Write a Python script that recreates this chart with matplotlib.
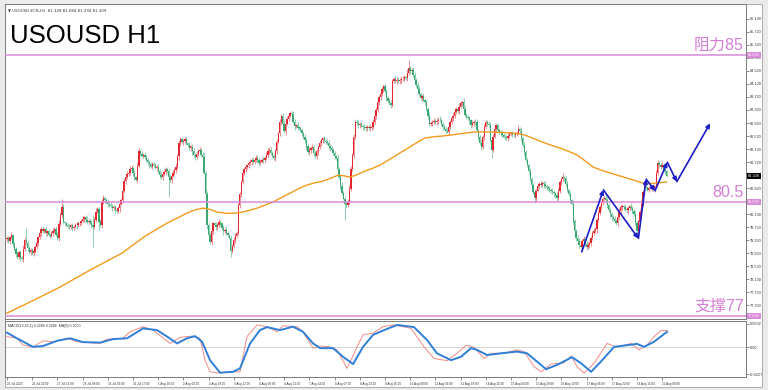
import numpy as np
import matplotlib
matplotlib.use("Agg")
import matplotlib.pyplot as plt
import matplotlib.transforms as mtransforms
from matplotlib.patches import Rectangle

# ---------------- data ----------------
open0 = 79.35
closes = [
    79.39, 79.30, 79.42, 79.48, 79.21, 79.05, 78.90, 78.81, 78.95, 78.78,
    78.74, 79.05, 79.33, 79.25, 79.10, 78.96, 79.02, 78.92, 78.98, 79.12,
    79.24, 79.41, 79.55, 79.68, 79.62, 79.66, 79.55, 79.60, 79.50, 79.47,
    79.55, 79.62, 79.66, 79.50, 79.40, 79.82, 80.10, 80.35, 79.88, 79.84,
    79.80, 79.76, 79.72, 79.78, 79.70, 79.74, 79.80, 79.78, 79.84,
    79.86, 79.92, 79.98, 80.03, 79.96, 79.90, 79.93, 79.86, 79.80, 79.74,
    79.95, 80.20, 80.28, 79.90, 79.80, 80.50, 80.62, 80.55, 80.50, 80.45,
    80.42, 80.38, 80.30, 80.34, 80.26, 80.22, 80.30, 80.45, 80.55, 80.85,
    81.15, 81.28, 81.35, 81.40, 81.50, 81.55, 81.40, 81.25, 81.18, 81.60,
    82.05, 81.98, 81.92, 81.95, 81.87, 81.80, 81.72, 81.65, 81.58, 81.66,
    81.62, 81.55, 81.58, 81.45, 81.32, 81.26, 81.35, 81.42, 81.50, 81.46,
    81.25, 81.18, 81.30, 81.40, 81.48, 81.58, 81.90, 82.30, 82.42, 82.35,
    82.38, 82.42, 82.30, 82.25, 82.15, 82.20, 82.05, 81.95, 81.88, 81.98,
    82.05, 82.10, 81.95, 81.88, 81.40, 80.75, 79.80, 79.50, 79.28, 79.60,
    79.84, 79.80, 79.72, 79.80, 79.88, 79.84, 79.70, 79.60, 79.65,
    79.55, 79.48, 79.40, 79.00, 79.15, 79.32, 79.45, 79.55, 80.40, 80.75,
    81.10, 81.40, 81.50, 81.56, 81.62, 81.68, 81.74, 81.78, 81.72, 81.80,
    81.86, 81.78, 81.70, 81.74, 81.80, 81.78, 81.85, 81.95, 82.05, 82.08,
    82.00, 81.92, 81.86, 82.05, 82.35, 82.60, 82.95, 83.15, 82.90, 82.68,
    82.90, 83.05, 83.15, 83.22, 83.20, 82.95, 82.82, 82.85, 82.78, 82.76,
    82.70, 82.60, 82.48, 82.40, 82.20, 82.02, 82.10, 82.15, 82.18, 82.00,
    81.90, 82.05, 82.18, 82.30, 82.40, 82.45, 82.38, 82.35, 82.30, 82.22,
    82.15, 82.08, 82.00, 81.90, 81.85, 81.50, 81.25, 81.00, 80.78,
    80.60, 80.45, 80.40, 80.50, 80.90, 81.50, 81.95, 82.50, 82.95, 82.92,
    82.85, 82.88, 82.84, 82.80, 82.78, 82.76, 82.80, 82.76, 82.78, 82.80,
    82.95, 83.15, 83.32, 83.55, 83.72, 83.80, 83.95, 84.05, 83.90, 83.70,
    83.60, 83.52, 83.48, 84.20, 84.28, 84.22, 84.25, 84.20, 84.23, 84.26,
    84.28, 84.33, 84.30, 84.45, 84.60, 84.52, 84.55, 84.40, 84.25, 84.10,
    83.95, 83.80, 83.70, 83.75, 83.62, 83.55, 83.35, 83.15, 82.90, 82.92,
    82.95, 82.98, 82.94, 82.98, 83.02, 83.00, 82.90, 82.80, 82.75, 82.68,
    82.66, 82.80, 82.95, 83.08, 83.15, 83.25, 83.35, 83.30, 83.42, 83.52,
    83.55, 83.35, 83.18, 83.10, 83.06, 83.00, 82.86, 82.92, 82.96,
    82.94, 82.70, 82.48, 82.30, 82.18, 82.50, 82.80, 82.95, 82.90, 82.85,
    82.40, 82.10, 82.50, 82.75, 82.85, 82.72, 82.64, 82.60, 82.55, 82.50,
    82.48, 82.45, 82.52, 82.58, 82.60, 82.56, 82.54, 82.58, 82.62, 82.75,
    82.68, 82.45, 82.25, 82.02, 81.80, 81.62, 81.45, 81.20, 81.02, 80.80,
    80.62, 80.85, 81.00, 81.05, 81.02, 81.08, 81.04, 80.98, 80.95, 80.92,
    80.88, 80.84, 80.80, 80.76, 80.70, 80.62, 80.85, 81.10, 81.20, 81.26,
    81.22, 81.05, 80.88, 80.75, 80.55, 80.45, 79.90, 79.60, 79.40, 79.30,
    79.18, 79.12, 79.30, 79.35, 79.22, 79.12, 79.18, 79.24, 79.40, 79.55,
    79.60, 79.66, 79.95, 80.15, 80.35, 80.48, 80.58, 80.62, 80.55,
    80.40, 80.25, 80.12, 80.04, 79.98, 79.92, 79.86, 80.05, 80.22, 80.34,
    80.38, 80.33, 80.28, 80.24, 80.30, 80.36, 80.32, 80.22, 80.14, 79.85,
    79.60, 79.90, 80.20, 80.45, 80.80, 81.05, 80.95, 80.88, 80.92, 80.95,
    80.96, 80.90, 80.98, 81.40, 81.68, 81.62, 81.58, 81.62, 81.50, 81.45, 81.31,
]
# upper / lower wick lengths in cents
wick_up = [
    6, 8, 5, 10, 4, 7, 6, 9, 5, 8, 6, 12, 9, 37, 6, 5, 8, 7, 4, 6,
    9, 5, 7, 6, 8, 4, 10, 5, 7, 6, 5, 8, 6, 9, 7, 12, 8, 23, 10, 5,
    6, 4, 7, 5, 8, 6, 5, 7, 9, 4, 6, 8, 5, 7, 10, 6, 4, 8, 30, 9,
    12, 6, 8, 7, 9, 10, 5, 6, 8, 4, 7, 5, 6, 8, 5, 7, 9, 6, 12, 8,
    6, 9, 5, 10, 7, 6, 8, 5, 14, 10, 6, 7, 5, 8, 6, 4, 7, 9, 5, 6,
    8, 5, 7, 6, 9, 4, 6, 8, 5, 7, 10, 6, 8, 5, 12, 7, 9, 6, 8, 5,
    6, 7, 5, 9, 6, 8, 10, 5, 7, 6, 8, 5, 9, 12, 6, 8, 5, 7, 10, 6,
    5, 8, 6, 9, 7, 5, 8, 6, 10, 7, 5, 8, 6, 12, 9, 7, 6, 5, 8, 10,
    6, 7, 5, 9, 8, 6, 10, 5, 7, 8, 6, 9, 5, 7, 6, 8, 10, 12, 9, 6,
    5, 7, 8, 6, 9, 5, 7, 10, 6, 8, 5, 7, 6, 9, 8, 5, 10, 6, 7, 8,
    6, 9, 5, 7, 8, 6, 10, 7, 5, 8, 6, 9, 7, 5, 8, 6, 7, 9, 5, 6,
    8, 7, 5, 9, 6, 8, 10, 6, 7, 5, 8, 12, 9, 6, 7, 5, 10, 8, 6, 7,
    5, 8, 9, 6, 7, 10, 5, 8, 6, 9, 12, 7, 6, 8, 5, 9, 7, 6, 8, 10,
    6, 5, 8, 7, 9, 6, 10, 8, 5, 7, 12, 25, 8, 6, 9, 7, 5, 8, 10, 6,
    7, 9, 5, 8, 6, 10, 7, 5, 9, 6, 8, 7, 12, 6, 5, 9, 8, 10, 7, 6,
    5, 8, 9, 6, 7, 10, 5, 8, 15, 9, 6, 7, 8, 5, 10, 6, 7, 9, 5, 8,
    12, 6, 9, 7, 5, 8, 10, 6, 7, 9, 5, 8, 6, 7, 10, 5, 9, 6, 8, 7,
    6, 9, 5, 8, 7, 10, 6, 8, 5, 9, 7, 6, 8, 10, 5, 7, 9, 6, 8, 5,
    10, 7, 6, 9, 8, 5, 7, 6, 10, 8, 5, 9, 7, 6, 8, 12, 5, 7, 9, 6,
    8, 5, 10, 7, 6, 9, 8, 5, 7, 10, 6, 8, 9, 5, 7, 6, 10, 8, 5, 9,
    7, 6, 8, 5, 10, 9, 6, 7, 8, 5, 9, 7, 6, 10, 8, 5, 7, 9, 6, 8,
    5, 10, 7, 6, 9, 8, 5, 7, 12, 6, 8, 9, 5, 7, 10, 6, 8, 5, 9, 11,
    7, 6, 10, 8, 5, 4,
]
wick_dn = [
    7, 5, 9, 6, 8, 5, 10, 7, 6, 9, 5, 8, 6, 7, 9, 5, 8, 6, 7, 5,
    6, 8, 5, 9, 7, 6, 8, 10, 5, 7, 6, 9, 8, 5, 7, 10, 6, 8, 5, 9,
    7, 5, 8, 6, 9, 7, 5, 10, 6, 8, 7, 5, 9, 6, 8, 7, 5, 9, 62, 6,
    8, 5, 26, 7, 9, 6, 8, 5, 10, 7, 6, 8, 5, 9, 7, 6, 10, 5, 8, 6,
    9, 7, 5, 8, 6, 10, 7, 5, 9, 6, 8, 5, 7, 9, 6, 8, 10, 5, 7, 6,
    5, 9, 7, 8, 6, 10, 5, 7, 8, 60, 6, 9, 5, 7, 8, 6, 10, 7, 5, 9,
    8, 6, 7, 5, 9, 10, 6, 8, 5, 7, 9, 6, 8, 5, 10, 12, 8, 6, 9, 7,
    5, 8, 7, 6, 9, 5, 10, 8, 6, 7, 5, 19, 8, 6, 9, 7, 5, 8, 10, 6,
    7, 9, 5, 8, 6, 10, 7, 5, 9, 8, 6, 7, 5, 10, 8, 6, 9, 7, 5, 8,
    6, 10, 7, 5, 9, 8, 6, 7, 12, 5, 8, 6, 9, 7, 10, 5, 8, 6, 7, 9,
    5, 8, 10, 6, 7, 9, 5, 8, 6, 7, 10, 5, 9, 8, 6, 7, 5, 10, 8, 6,
    7, 9, 5, 8, 6, 10, 7, 5, 50, 8, 6, 9, 7, 5, 10, 8, 6, 7, 9, 5,
    8, 6, 10, 7, 5, 9, 8, 6, 7, 10, 5, 8, 9, 6, 7, 5, 10, 8, 6, 9,
    7, 5, 8, 10, 6, 9, 7, 5, 8, 6, 10, 7, 9, 5, 8, 6, 7, 10, 5, 8,
    9, 6, 7, 5, 10, 8, 6, 9, 7, 5, 8, 10, 6, 7, 9, 5, 8, 6, 10, 7,
    5, 9, 8, 6, 7, 10, 5, 8, 9, 6, 7, 5, 10, 8, 6, 9, 7, 5, 8, 6,
    10, 7, 9, 5, 8, 6, 7, 25, 8, 5, 9, 6, 10, 7, 8, 5, 9, 6, 7, 10,
    5, 8, 6, 9, 7, 5, 10, 8, 6, 7, 9, 5, 8, 6, 10, 7, 15, 9, 5, 8,
    6, 7, 10, 5, 9, 8, 6, 7, 5, 10, 8, 12, 6, 9, 7, 5, 8, 10, 6, 7,
    9, 5, 8, 6, 10, 7, 9, 5, 8, 6, 7, 10, 5, 9, 8, 6, 7, 5, 10, 8,
    6, 9, 7, 5, 8, 10, 6, 7, 9, 5, 8, 6, 10, 7, 5, 9, 8, 6, 7, 10,
    5, 8, 9, 6, 7, 18, 8, 5, 10, 6, 9, 7, 5, 8, 6, 10, 7, 9, 5, 8,
    6, 7, 5, 9, 8, 6,
]

# moving average (orange) - bar index / value
ma_idx = [0, 15.5, 35.8, 56.0, 77.6, 93.1, 108.0, 115.0, 121.5, 127.0, 132.3, 137.0, 141.7,
          148.0, 155.2, 160.0, 164.0, 168.7, 174.0, 179.5, 185.0, 191.0, 196.5, 202.4, 208.0,
          213.2, 218.0, 223.3, 227.5, 231.4, 236.0, 240.2, 246.0, 251.7, 259.8, 265.0, 270.6,
          276.5, 282.1, 288.0, 293.5, 299.0, 304.3, 313.8, 320.5, 327.3, 335.0, 342.8, 349.5,
          355.0, 361.0, 367.0, 373.1, 379.0, 384.6, 390.0, 395.4, 401.0, 406.9, 412.5, 418.4,
          424.0, 429.1, 434.0, 438.6, 442.0, 445]
ma_val = [77.09, 77.43, 77.89, 78.41, 78.93, 79.45, 79.85, 80.01, 80.16, 80.26, 80.31, 80.27,
          80.19, 80.15, 80.16, 80.20, 80.25, 80.31, 80.40, 80.50, 80.63, 80.77, 80.90, 81.02,
          81.09, 81.14, 81.22, 81.32, 81.30, 81.26, 81.33, 81.42, 81.52, 81.63, 81.85, 82.00,
          82.15, 82.32, 82.46, 82.50, 82.52, 82.55, 82.58, 82.64, 82.65, 82.64, 82.63, 82.61,
          82.55, 82.45, 82.34, 82.24, 82.15, 82.05, 81.94, 81.76, 81.57, 81.47, 81.39, 81.31,
          81.23, 81.15, 81.08, 81.06, 81.08, 81.10, 81.11]

# MACD panel
macd_blue_idx = [0, 6.7, 17.5, 24.3, 33.7, 42.5, 51.3, 62.8, 71.5, 81.0, 91.8, 101.2, 108.0,
                 114.7, 121.5, 126.9, 131.6, 137.0, 143.7, 152.5, 157.2, 164.0, 170.7, 175.4,
                 184.2, 193.0, 199.7, 206.5, 211.2, 220.0, 226.7, 233.5, 240.2, 247.0, 253.7,
                 263.2, 274.6, 283.4, 290.1, 299.6, 306.3, 313.1, 317.1, 323.9, 333.3, 344.1,
                 350.9, 360.3, 363.7, 371.1, 381.2, 387.3, 394.1, 400.8, 409.6, 418.4, 425.1,
                 429.8, 436.6, 445.3]
macd_blue = [0.34, 0.21, 0.01, 0.03, 0.15, 0.21, 0.12, 0.11, 0.19, 0.21, 0.44, 0.40, 0.25,
             0.09, 0.21, 0.26, 0.13, -0.30, -0.59, -0.57, -0.49, 0.09, 0.40, 0.47,
             0.40, 0.48, 0.36, 0.09, -0.02, -0.02, -0.22, -0.39, 0.01, 0.29, 0.39,
             0.52, 0.47, 0.17, -0.14, -0.30, -0.22, -0.02, -0.06, -0.18, -0.14, -0.10,
             -0.14, -0.41, -0.51, -0.41, -0.23, -0.37, -0.57, -0.33, 0.01, 0.05, 0.08,
             0.01, 0.13, 0.36]
macd_red_idx = [0, 6.7, 10.8, 17.5, 24.3, 31.0, 40.5, 47.2, 62.8, 67.5, 78.3, 83.0, 91.8,
                98.5, 110.0, 116.7, 124.8, 130.2, 133.6, 137.0, 143.7, 150.5, 157.2, 161.9,
                168.7, 175.4, 182.2, 186.2, 195.7, 199.7, 206.5, 211.2, 217.9, 222.7, 229.4,
                236.2, 240.2, 247.0, 253.7, 261.1, 272.6, 281.4, 288.1, 296.9, 303.6, 309.7,
                315.1, 321.9, 326.6, 335.4, 344.1, 348.9, 355.6, 360.3, 367.1, 375.8, 380.6,
                384.6, 389.3, 396.1, 404.9, 411.6, 421.1, 426.5, 431.8, 436.6, 441.3, 445.3]
macd_red = [0.25, 0.21, 0.05, 0.01, 0.15, 0.13, 0.21, 0.13, 0.09, 0.19, 0.21, 0.36, 0.48,
            0.40, 0.09, 0.23, 0.26, 0.21, -0.30, -0.57, -0.60, -0.57, -0.57, 0.25,
            0.52, 0.48, 0.36, 0.50, 0.48, 0.36, -0.02, 0.03, 0.01, -0.06, -0.49,
            0.01, 0.29, 0.33, 0.48, 0.52, 0.44, 0.01, -0.26, -0.31, -0.14, 0.05,
            0.00, -0.26, -0.14, -0.14, -0.06, -0.10, -0.45, -0.57, -0.39, -0.36, -0.20,
            -0.45, -0.60, -0.37, 0.09, 0.00, 0.09, -0.06, 0.05, 0.25, 0.39, 0.39]

# forecast zig-zag (blue arrows)
zz_idx = [387.8, 402.4, 426.0, 431.2, 437.2, 445.5, 451.9, 474.4]
zz_val = [78.97, 80.87, 79.38, 81.20, 80.84, 81.72, 81.12, 82.91]

levels = [85.0, 80.5, 77.0]
level_labels = ["阻力85", "80.5", "支撑77"]
level_boxes = ["85.000", "80.500", "77.000"]
last_price = 81.309

price_ticks = [86.12, 85.72, 85.32, 84.92, 84.52, 84.12, 83.72, 83.32, 82.92, 82.52,
               82.12, 81.72, 80.92, 80.13, 79.73, 79.33, 78.93, 78.53, 78.13, 77.73, 77.33]
time_labels = ["26 Jul 2023", "26 Jul 22:00", "27 Jul 15:00", "28 Jul 08:00", "31 Jul 01:00",
               "31 Jul 17:00", "1 Aug 10:00", "2 Aug 03:00", "2 Aug 19:00", "3 Aug 12:00",
               "4 Aug 05:00", "4 Aug 21:00", "7 Aug 14:00", "8 Aug 07:00", "8 Aug 23:00",
               "9 Aug 16:00", "10 Aug 09:00", "11 Aug 02:00", "11 Aug 18:00", "14 Aug 11:00",
               "15 Aug 04:00", "15 Aug 20:00", "16 Aug 13:00", "17 Aug 06:00", "17 Aug 22:00",
               "18 Aug 15:00", "21 Aug 08:00"]
time_step = 17

# ---------------- figure ----------------
W, H = 768, 390
fig = plt.figure(figsize=(W / 100, H / 100), dpi=100, facecolor="#ebebeb")
SMALL = "Liberation Sans"


def rect(x0, y0, x1, y1):
    return [x0 / W, 1 - y1 / H, (x1 - x0) / W, (y1 - y0) / H]


bg = Rectangle((5 / W, 1 - 387 / H), 757 / W, 383 / H, transform=fig.transFigure,
               facecolor="white", edgecolor="#a0a0a0", lw=0.6, zorder=-5)
fig.add_artist(bg)

ax = fig.add_axes(rect(5, 4, 746, 319))
ax2 = fig.add_axes(rect(5, 321, 746, 377), sharex=ax)
for a in (ax, ax2):
    a.set_facecolor("white")
    for s in a.spines.values():
        s.set_color("#7a7a7a")
        s.set_linewidth(0.7)

XMIN, XMAX = -1.35, 498.6
ax.set_xlim(XMIN, XMAX)
ax.set_ylim(76.91, 86.57)
ax2.set_ylim(-0.691, 0.612)

# candles
c = np.array(closes)
o = np.concatenate([[open0], c[:-1]])
hi = np.maximum(o, c) + np.array(wick_up) / 100.0
lo = np.minimum(o, c) - np.array(wick_dn) / 100.0
idx = np.arange(len(c))
up = c >= o
RED, GREEN = "#e6262e", "#39a872"
body_col = np.where(up, RED, GREEN)
wick_col = np.where(up, "#ee7a80", "#7cc8a2")
ax.vlines(idx, lo, hi, colors=wick_col, lw=0.6, zorder=2)
ax.bar(idx, np.maximum(np.abs(c - o), 0.025), bottom=np.minimum(o, c), width=0.9,
       color=body_col, linewidth=0, zorder=3)

# moving average
ax.plot(ma_idx, ma_val, color="#f39a1e", lw=1.0, zorder=4, solid_joinstyle="round")

# levels
LEV = "#d98ad9"
blend = mtransforms.blended_transform_factory(ax.transAxes, ax.transData)
for lv, lab, box in zip(levels, level_labels, level_boxes):
    ax.axhline(lv, color=LEV, lw=1.1, zorder=5)
    ax.annotate(lab, xy=(1, lv), xycoords=blend, xytext=(-1.5, 1.5),
                textcoords="offset points", ha="right", va="bottom",
                fontsize=11.5, color="#d47ed4",
                family=["Liberation Sans", "Noto Sans CJK SC"], zorder=6)
    ax.text(1.003, lv, box, transform=blend, fontsize=2.8, color="white", family=SMALL,
            va="center", ha="left", clip_on=False,
            bbox=dict(boxstyle="square,pad=0.25", fc=LEV, ec="none"))
ax.text(1.003, last_price, f"{last_price:.3f}", transform=blend, fontsize=2.8, family=SMALL,
        color="white", va="center", ha="left", clip_on=False,
        bbox=dict(boxstyle="square,pad=0.25", fc="black", ec="none"))

# zig-zag arrows
ZZ = "#1b1bc8"
for k in range(len(zz_idx) - 1):
    ax.annotate("", xy=(zz_idx[k + 1], zz_val[k + 1]), xytext=(zz_idx[k], zz_val[k]),
                arrowprops=dict(arrowstyle="-|>", color=ZZ, lw=1.2, mutation_scale=6,
                                shrinkA=0, shrinkB=0), zorder=7)

# price axis
ax.yaxis.tick_right()
ax.set_yticks(price_ticks)
ax.set_yticklabels([f"{t:.3f}" for t in price_ticks], family=SMALL)
ax.tick_params(axis="y", labelsize=2.8, length=2, width=0.4, pad=1, colors="#333333")
ax.tick_params(axis="x", bottom=False, labelbottom=False)

# titles
ax.text(0.004, 0.985, "▼ USOUSD-ECN,H1  81.328 81.684 81.294 81.309", transform=ax.transAxes,
        fontsize=2.8, color="#333333", va="top", ha="left")
ax.text(5 / 741, 1 - (43 - 4) / 315, "USOUSD H1", transform=ax.transAxes,
        fontsize=18.5, family="Liberation Sans", color="black", va="baseline", ha="left",
        zorder=8)

# MACD panel
ax2.axhline(0, color="#cfcfcf", lw=0.6, zorder=1)
ax2.plot(macd_red_idx, macd_red, color="#f08a84", lw=0.7, zorder=2, solid_joinstyle="round")
ax2.plot(macd_blue_idx, macd_blue, color="#2f7fd8", lw=1.4, zorder=3, solid_joinstyle="round")
ax2.text(0.004, 0.94, "MACD(12,26,1) 0.3266 0.3266  MA(9) 0.1000", transform=ax2.transAxes,
         fontsize=2.6, family=SMALL, color="#333333", va="top", ha="left")
ax2.yaxis.tick_right()
ax2.set_yticks([0.5502, 0.0, -0.6227])
ax2.set_yticklabels(["0.5502", "0.00", "-0.6227"], family=SMALL)
ax2.tick_params(axis="y", labelsize=2.8, length=2, width=0.4, pad=1, colors="#333333")
ax2.set_xticks([k * time_step for k in range(len(time_labels))])
ax2.set_xticklabels(time_labels, ha="left", family=SMALL)
ax2.tick_params(axis="x", labelsize=2.2, length=2, width=0.4, pad=1.5, colors="#333333")

fig.savefig("out.png", dpi=100, facecolor=fig.get_facecolor())
